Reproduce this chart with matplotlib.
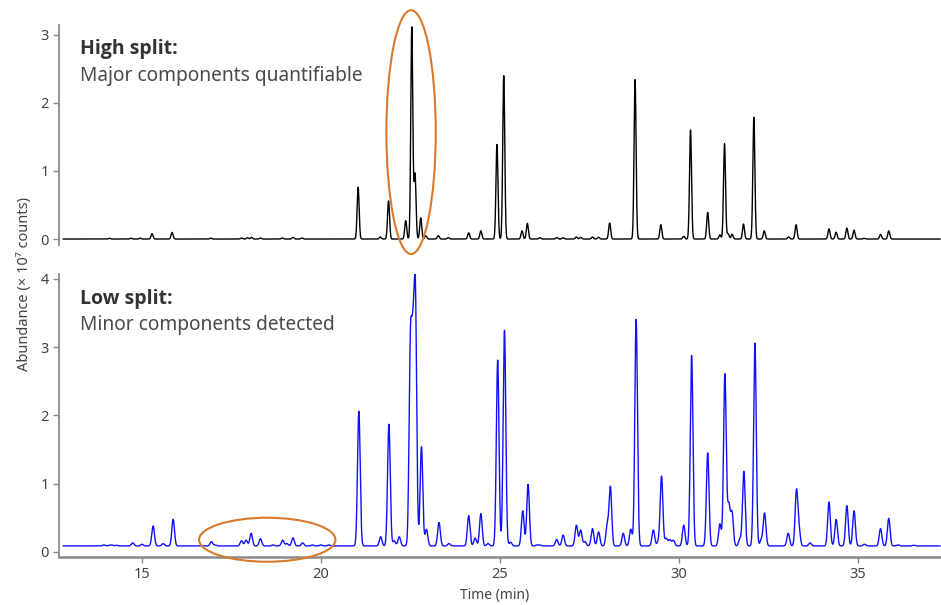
import numpy as np
import matplotlib
matplotlib.use("Agg")
import matplotlib.pyplot as plt
from matplotlib.patches import Ellipse
from matplotlib import font_manager as fm

# ---------------- data ----------------
# High split run: peak retention times (min) and apex abundance (x1e7 counts)
high_rt = [14.09, 14.69, 14.95, 15.28, 15.84, 16.92, 17.78, 17.95, 18.06, 18.31,
           18.92, 19.22, 19.47, 21.04, 21.66, 21.89, 22.37, 22.54, 22.63, 22.79,
           22.93, 23.28, 23.56, 24.13, 24.47, 24.92, 25.11, 25.62, 25.77, 26.12,
           26.59, 26.77, 27.14, 27.26, 27.59, 27.76, 28.07, 28.78, 29.50, 30.14,
           30.33, 30.81, 31.15, 31.28, 31.38, 31.49, 31.81, 32.10, 32.39, 33.07,
           33.28, 34.20, 34.40, 34.70, 34.90, 35.18, 35.64, 35.87]
high_apex = [0.010, 0.012, 0.012, 0.078, 0.097, 0.012, 0.015, 0.020, 0.025, 0.015,
             0.015, 0.025, 0.015, 0.76, 0.03, 0.56, 0.27, 3.12, 0.97, 0.31,
             0.05, 0.05, 0.02, 0.09, 0.12, 1.39, 2.40, 0.12, 0.23, 0.02,
             0.02, 0.02, 0.03, 0.025, 0.03, 0.025, 0.235, 2.34, 0.21, 0.04,
             1.60, 0.39, 0.06, 1.40, 0.08, 0.07, 0.22, 1.79, 0.12, 0.03,
             0.21, 0.15, 0.10, 0.16, 0.13, 0.01, 0.07, 0.12]

# Low split run: peak retention times (min) and apex abundance (x1e7 counts)
low_rt = [13.93, 14.07, 14.15, 14.28, 14.74, 15.00, 15.31, 15.59, 15.87, 16.94,
          17.05, 17.78, 17.91, 18.05, 18.31, 18.66, 18.93, 19.05, 19.22, 19.49,
          19.76, 20.00, 20.22, 21.06, 21.67, 21.90, 22.05, 22.19, 22.50, 22.57,
          22.64, 22.81, 22.95, 23.30, 23.58, 24.13, 24.31, 24.47, 24.67, 24.94,
          25.13, 25.30, 25.64, 25.79, 26.03, 26.12, 26.59, 26.77, 27.14, 27.26,
          27.38, 27.59, 27.76, 28.00, 28.09, 28.45, 28.66, 28.81, 29.29, 29.43,
          29.52, 29.65, 29.75, 29.85, 30.14, 30.36, 30.81, 31.15, 31.29, 31.40,
          31.49, 31.71, 31.82, 32.13, 32.31, 32.40, 33.06, 33.29, 33.36, 33.67,
          34.20, 34.40, 34.70, 34.90, 35.19, 35.64, 35.87, 36.13, 36.56]
low_apex = [0.10, 0.095, 0.10, 0.095, 0.13, 0.11, 0.377, 0.12, 0.475, 0.147,
            0.10, 0.16, 0.17, 0.27, 0.19, 0.10, 0.17, 0.12, 0.205, 0.13,
            0.10, 0.10, 0.10, 2.06, 0.22, 1.87, 0.16, 0.22, 3.25, 3.55,
            4.00, 1.54, 0.33, 0.43, 0.12, 0.53, 0.20, 0.56, 0.12, 2.81,
            3.25, 0.14, 0.60, 0.99, 0.10, 0.10, 0.18, 0.245, 0.39, 0.32,
            0.15, 0.34, 0.29, 0.42, 0.96, 0.27, 0.33, 3.41, 0.32, 0.20,
            1.11, 0.20, 0.18, 0.17, 0.39, 2.88, 1.45, 0.41, 2.61, 0.73,
            0.60, 0.20, 1.18, 3.06, 0.20, 0.57, 0.27, 0.92, 0.45, 0.13,
            0.73, 0.475, 0.675, 0.60, 0.11, 0.34, 0.49, 0.10, 0.095]

high_baseline = 0.0
low_baseline = 0.085

x_ticks = [15, 20, 25, 30, 35]
high_yticks = [0, 1, 2, 3]
low_yticks = [0, 1, 2, 3, 4]

high_title = "High split:"
high_sub = "Major components quantifiable"
low_title = "Low split:"
low_sub = "Minor components detected"
x_label = "Time (min)"
y_label = "Abundance (× 10⁷ counts)"

# ---------------- build traces from the peak tables ----------------
t = np.linspace(12.8, 37.3, 7000)


def trace(rt, apex, base, sigma):
    rt = np.asarray(rt, float)
    target = np.asarray(apex, float) - base
    G = np.exp(-0.5 * ((rt[:, None] - rt[None, :]) / sigma) ** 2)
    amp = np.clip(np.linalg.solve(G, target), 0, None)
    return base + (amp[None, :] * np.exp(-0.5 * ((t[:, None] - rt[None, :]) / sigma) ** 2)).sum(1)


high_y = trace(high_rt, high_apex, high_baseline, 0.028)
low_y = trace(low_rt, low_apex, low_baseline, 0.037)

# ---------------- figure ----------------
FONT = ["Noto Sans", "DejaVu Sans"]
plt.rcParams["font.family"] = FONT

# pick a family that really has a bold face for the panel titles
bold_family = "Roboto"
for fam in ("Noto Sans", "Open Sans", "Roboto"):
    try:
        p = fm.findfont(fm.FontProperties(family=fam, weight="bold"),
                        fallback_to_default=False)
        if "bold" in p.lower():
            bold_family = fam
            break
    except Exception:
        pass

fig = plt.figure(figsize=(9.41, 6.05), dpi=100)
ax1 = fig.add_axes([0.0627, 0.595, 0.9373, 0.3636])
ax2 = fig.add_axes([0.0627, 0.0798, 0.9373, 0.4673])

spine_c = "#8a8a8a"
tick_c = "#444444"

for ax in (ax1, ax2):
    ax.set_xlim(12.68, 37.33)
    for s in ("top", "right"):
        ax.spines[s].set_visible(False)
    ax.spines["left"].set_color(spine_c)
    ax.spines["left"].set_linewidth(1.3)
    ax.tick_params(axis="both", colors=spine_c, labelcolor=tick_c,
                   labelsize=10.5, length=4, width=1)

ax1.plot(t, high_y, color="black", lw=1.0)
ax1.set_ylim(-0.088, 3.142)
ax1.set_yticks(high_yticks)
ax1.spines["bottom"].set_visible(False)
ax1.tick_params(axis="x", bottom=False, labelbottom=False)

ax2.plot(t, low_y, color="#1010ff", lw=1.0)
ax2.set_ylim(-0.073, 4.073)
ax2.set_yticks(low_yticks)
ax2.set_xticks(x_ticks)
ax2.spines["bottom"].set_color(spine_c)
ax2.spines["bottom"].set_linewidth(1.8)

# annotations
title_fs = 14 if bold_family != "Roboto" else 15.2
ax1.text(0.0238, 0.868, high_title, transform=ax1.transAxes, fontsize=title_fs,
         fontweight="bold", family=[bold_family, "DejaVu Sans"],
         color="#333333", va="baseline")
ax1.text(0.0238, 0.745, high_sub, transform=ax1.transAxes, fontsize=13.8,
         color="#4a4a4a", va="baseline")
ax2.text(0.0238, 0.894, low_title, transform=ax2.transAxes, fontsize=title_fs,
         fontweight="bold", family=[bold_family, "DejaVu Sans"],
         color="#333333", va="baseline")
ax2.text(0.0238, 0.802, low_sub, transform=ax2.transAxes, fontsize=13.8,
         color="#4a4a4a", va="baseline")

orange = "#d9792b"
ax1.add_patch(Ellipse((22.52, 1.57), 1.38, 3.58, fill=False, edgecolor=orange,
                      lw=1.5, clip_on=False, zorder=5))
ax2.add_patch(Ellipse((18.50, 0.176), 3.81, 0.645, fill=False, edgecolor=orange,
                      lw=1.5, clip_on=False, zorder=5))

fig.text(0.526, 0.003, x_label, ha="center", va="bottom", fontsize=10, color=tick_c)
fig.text(0.026, 0.53, y_label, rotation=90, ha="center", va="center",
         fontsize=10.5, color=tick_c)

fig.savefig("out.png", dpi=100)
